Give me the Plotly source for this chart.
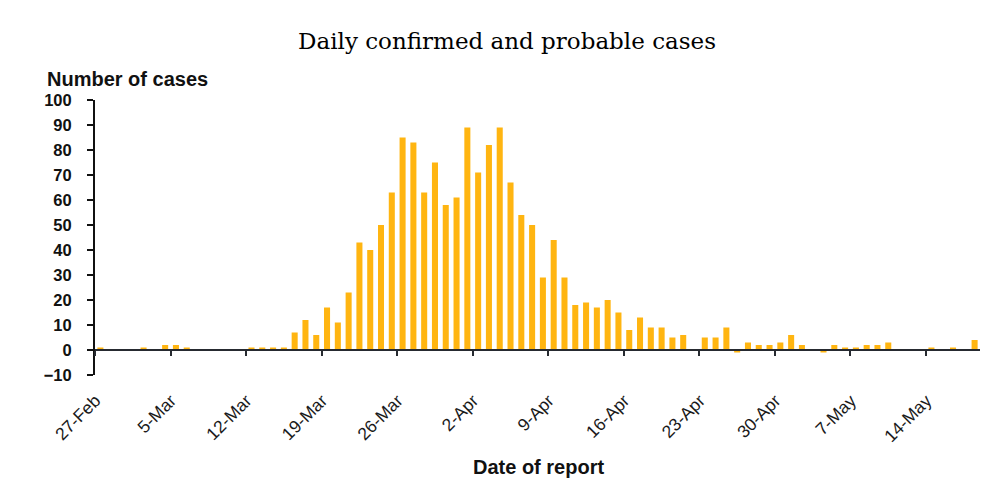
import pandas as pd
import plotly.graph_objects as go

# Daily cases, 27-Feb to 18-May (2020)
start_date = "2020-02-27"
cases = [1, 0, 0, 0, 1, 0, 2, 2, 1, 0,
         0, 0, 0, 0, 1, 1, 1, 1, 7, 12,
         6, 17, 11, 23, 43, 40, 50, 63, 85, 83,
         63, 75, 58, 61, 89, 71, 82, 89, 67, 54,
         50, 29, 44, 29, 18, 19, 17, 20, 15, 8,
         13, 9, 9, 5, 6, 0, 5, 5, 9, -1,
         3, 2, 2, 3, 6, 2, 0, -1, 2, 1,
         1, 2, 2, 3, 0, 0, 0, 1, 0, 1,
         0, 4]
tick_dates = ["2020-02-27", "2020-03-05", "2020-03-12", "2020-03-19", "2020-03-26", "2020-04-02",
              "2020-04-09", "2020-04-16", "2020-04-23", "2020-04-30", "2020-05-07", "2020-05-14"]
tick_labels = ["27-Feb", "5-Mar", "12-Mar", "19-Mar", "26-Mar", "2-Apr",
               "9-Apr", "16-Apr", "23-Apr", "30-Apr", "7-May", "14-May"]
y_ticks = list(range(-10, 101, 10))

dates = pd.date_range(start_date, periods=len(cases), freq="D")
half_day = pd.Timedelta(hours=12)
x_range = [dates[0] - half_day, dates[-1] + half_day]
boundary_ticks = [pd.Timestamp(d) - half_day for d in tick_dates]
label_pos = [pd.Timestamp(d) - pd.Timedelta(hours=11) for d in tick_dates]

DAY_MS = 86400000
fig = go.Figure()
fig.add_trace(go.Bar(x=dates, y=cases, width=0.56 * DAY_MS,
                     marker=dict(color="#FFB511", line=dict(width=0)),
                     showlegend=False))
fig.add_trace(go.Scatter(x=[dates[0]], y=[None], xaxis="x2", yaxis="y",
                         mode="markers", showlegend=False, hoverinfo="skip"))

# page body has an 8px margin: figure is drawn at (8, 8)
W, H = 987, 477
L, T, R, B = 87, 92, 15, 110
PW, PH = W - L - R, H - T - B   # 885 x 275

fig.update_layout(
    width=W, height=H,
    margin=dict(l=L, r=R, t=T, b=B, autoexpand=False),
    paper_bgcolor="white", plot_bgcolor="white",
    title=dict(text="Daily confirmed and probable cases", xref="container", x=499 / W,
               xanchor="center", y=1 - 33 / H, yanchor="middle",
               font=dict(family="DejaVu Serif", size=23, color="#000000")),
    xaxis=dict(type="date", range=x_range, tickvals=label_pos, ticktext=tick_labels,
               tickangle=-45, ticks="", showline=False, showgrid=False, zeroline=False,
               ticklabelstandoff=11, automargin=False,
               tickfont=dict(family="Liberation Sans", size=17.5, color="#1a1a1a")),
    xaxis2=dict(type="date", overlaying="x", matches="x", anchor="free", position=10 / 110,
                showline=True, linecolor="#262a30", linewidth=2,
                ticks="outside", ticklen=5, tickwidth=2, tickcolor="#262a30",
                tickvals=boundary_ticks, showticklabels=False, showgrid=False, zeroline=False),
    yaxis=dict(range=[-10, 100], tickvals=y_ticks, showgrid=False, zeroline=False,
               showline=True, linecolor="#111111", linewidth=2, automargin=False,
               ticks="outside", ticklen=6, tickwidth=1.5, tickcolor="#111111",
               ticklabelstandoff=12,
               tickfont=dict(family="Liberation Sans", size=16.5, color="#111111", weight="bold")),
    bargap=0.44,
)

fig.add_annotation(text="Number of cases", xref="paper", yref="paper",
                   x=(45 - 95) / PW, y=(375 - 79) / PH, xanchor="left", yanchor="middle",
                   showarrow=False,
                   font=dict(family="Liberation Sans", size=20, color="#111111", weight="bold"))
fig.add_annotation(text="Date of report", xref="paper", yref="paper",
                   x=(538 - 95) / PW, y=(375 - 467) / PH, xanchor="center", yanchor="middle",
                   showarrow=False,
                   font=dict(family="Liberation Sans", size=20, color="#111111", weight="bold"))

fig.write_html("out.html")
